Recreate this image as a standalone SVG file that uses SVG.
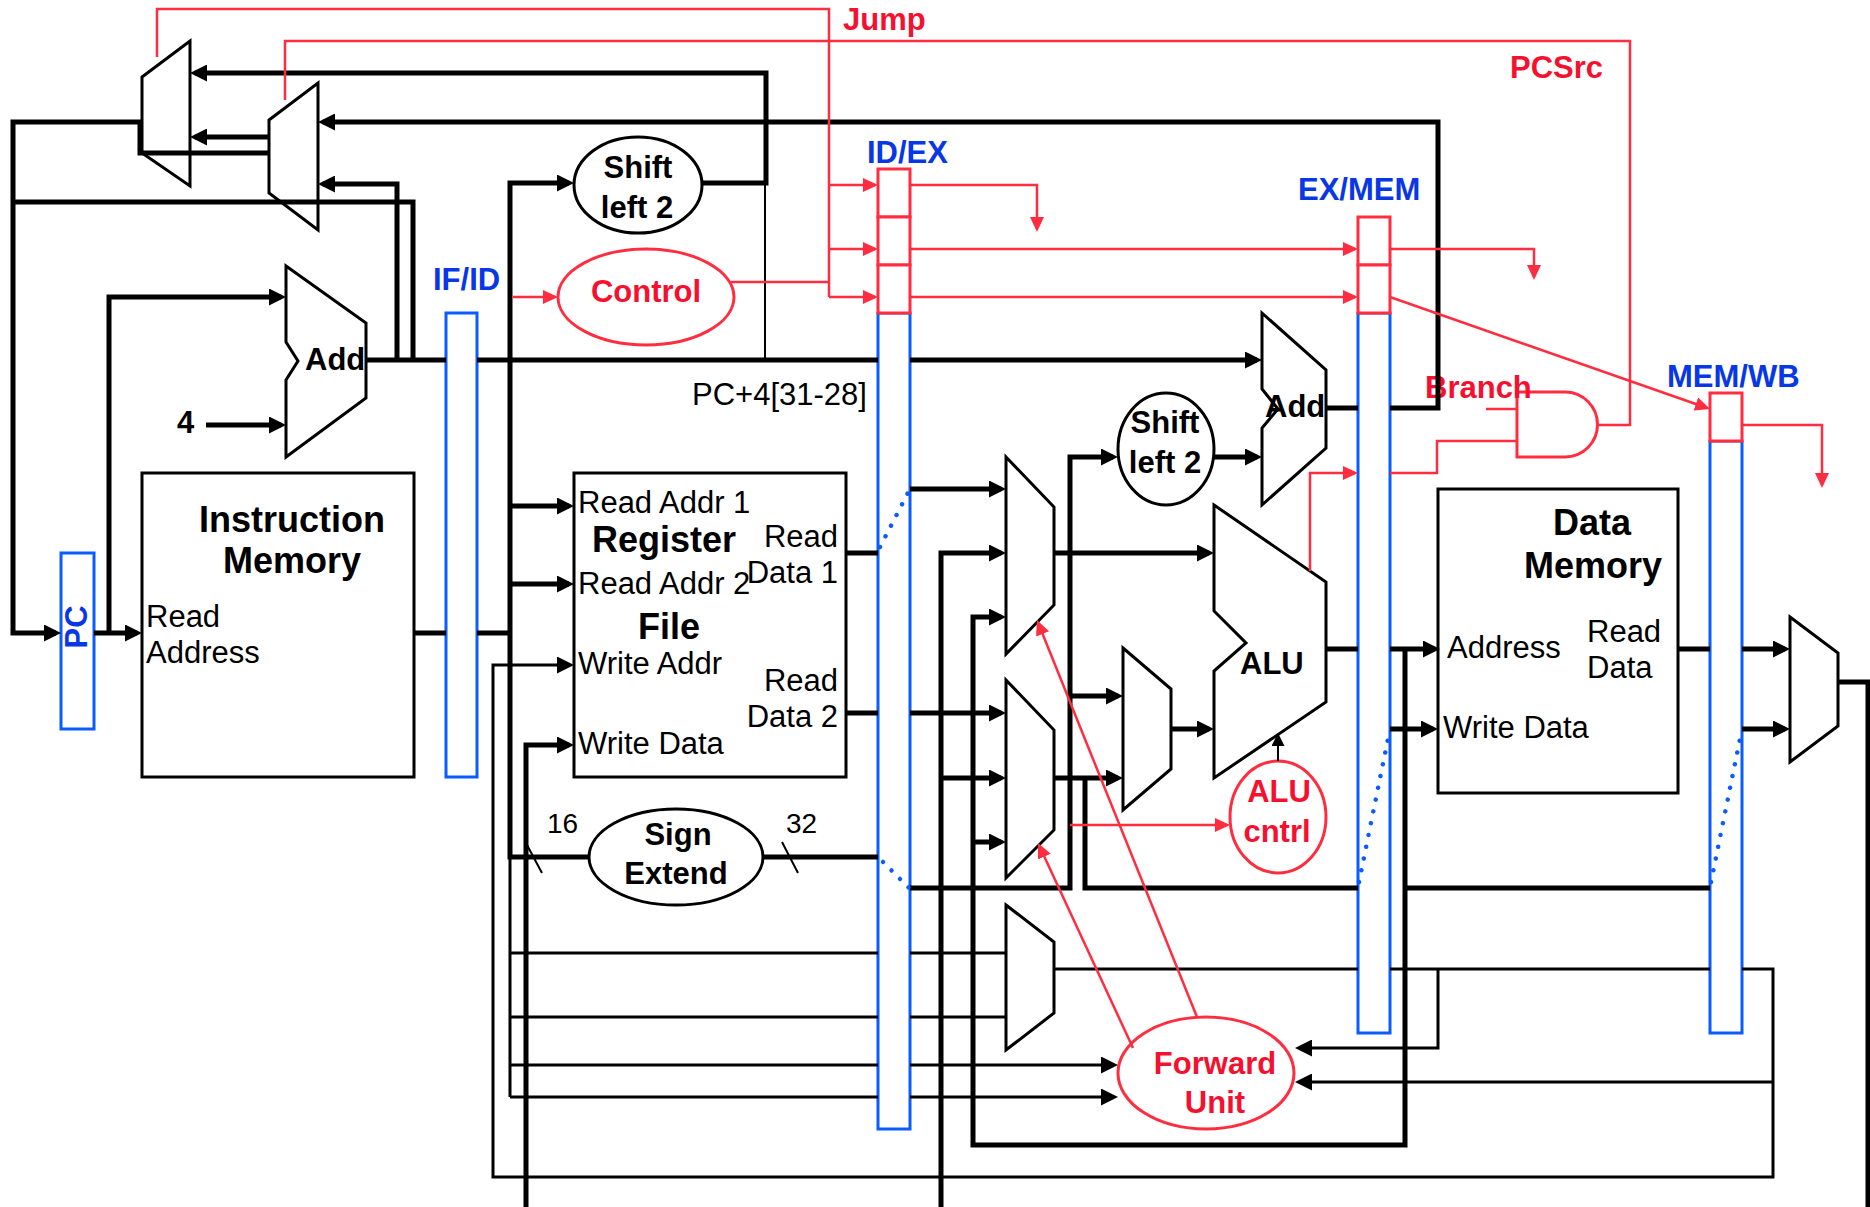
<svg xmlns="http://www.w3.org/2000/svg" width="1870" height="1207" viewBox="0 0 1870 1207">
<defs>
<style>
.bk{fill:none;stroke:#000;stroke-width:5}
.tn{fill:none;stroke:#000;stroke-width:3}
.hl{fill:none;stroke:#000;stroke-width:2}
.rd{fill:none;stroke:#ff2d3f;stroke-width:2.5}
.dot{fill:none;stroke:#0a5cff;stroke-width:4.5;stroke-linecap:round;stroke-dasharray:0.01 12}
.sh{fill:#fff;stroke:#000;stroke-width:3}
.rs{fill:#fff;stroke:#ff2d3f;stroke-width:3}
.bs{fill:#fff;stroke:#0a5cff;stroke-width:3}
text{font-family:"Liberation Sans",Arial,sans-serif}
.t{font-size:31px;fill:#000}
.tb{font-size:31px;font-weight:bold;fill:#000}
.tB{font-size:36px;font-weight:bold;fill:#000}
.tr{font-size:31px;font-weight:bold;fill:#f5102f}
.tbl{font-size:31px;font-weight:bold;fill:#0837e6}
</style>
<marker id="ab" markerUnits="userSpaceOnUse" viewBox="0 0 17 17" markerWidth="17" markerHeight="17" refX="12" refY="8.5" orient="auto"><path d="M0,0 L17,8.5 L0,17 z" fill="#000"/></marker>
<marker id="as" markerUnits="userSpaceOnUse" viewBox="0 0 13 13" markerWidth="13" markerHeight="13" refX="9" refY="6.5" orient="auto"><path d="M0,0 L13,6.5 L0,13 z" fill="#000"/></marker>
<marker id="ar" markerUnits="userSpaceOnUse" viewBox="0 0 15 14" markerWidth="15" markerHeight="14" refX="12" refY="7" orient="auto"><path d="M0,0 L15,7 L0,14 z" fill="#ff2d3f"/></marker>
</defs>
<rect width="1870" height="1207" fill="#fff"/>

<g id="nodes">
<g id="mux-jump"><polygon class="sh" points="142,77 190,41 190,186 142,153"/></g>
<g id="mux-pcsrc"><polygon class="sh" points="269,120 318,83 318,230 269,193"/></g>
<g id="pc"><rect class="bs" x="61" y="553" width="33" height="176"/><text class="tbl" transform="translate(87,627) rotate(-90)" text-anchor="middle">PC</text></g>
<g id="add-pc"><polygon class="sh" points="286,266 366,323 366,398 286,457 286,380 298,361 286,342"/><text class="tb" x="305" y="370">Add</text></g>
<text class="tb" x="177" y="433">4</text>
<g id="instr-mem"><rect class="sh" x="142" y="473" width="272" height="304"/>
<text class="tB" x="292" y="532" text-anchor="middle">Instruction</text>
<text class="tB" x="292" y="573" text-anchor="middle">Memory</text>
<text class="t" x="146" y="627">Read</text>
<text class="t" x="146" y="663">Address</text></g>
<g id="if-id"><rect class="bs" x="446" y="313" width="31" height="464"/><text class="tbl" x="433" y="290">IF/ID</text></g>
<g id="shift1"><ellipse class="sh" cx="638" cy="185" rx="64" ry="48"/><text class="tb" x="638" y="178" text-anchor="middle">Shift</text><text class="tb" x="637" y="218" text-anchor="middle">left 2</text></g>
<g id="control"><ellipse class="rs" cx="646" cy="297" rx="88" ry="48"/><text class="tr" x="646" y="302" text-anchor="middle">Control</text></g>
<g id="regfile"><rect class="sh" x="574" y="473" width="272" height="304"/>
<text class="t" x="578" y="513">Read Addr 1</text>
<text class="tB" x="592" y="552">Register</text>
<text class="t" x="838" y="547" text-anchor="end">Read</text>
<text class="t" x="838" y="583" text-anchor="end">Data 1</text>
<text class="t" x="578" y="594">Read Addr 2</text>
<text class="tB" x="638" y="639">File</text>
<text class="t" x="578" y="674">Write Addr</text>
<text class="t" x="838" y="691" text-anchor="end">Read</text>
<text class="t" x="838" y="727" text-anchor="end">Data 2</text>
<text class="t" x="578" y="754">Write Data</text></g>
<g id="signext"><ellipse class="sh" cx="676" cy="857" rx="87" ry="48"/><text class="tb" x="678" y="845" text-anchor="middle">Sign</text><text class="tb" x="676" y="884" text-anchor="middle">Extend</text>
<text class="t" x="547" y="833" style="font-size:28px">16</text><text class="t" x="786" y="833" style="font-size:28px">32</text></g>
<g id="id-ex"><rect class="bs" x="878" y="313" width="32" height="816"/>
<rect class="rs" x="878" y="169" width="32" height="48"/><rect class="rs" x="878" y="217" width="32" height="48"/><rect class="rs" x="878" y="265" width="32" height="48"/>
<text class="tbl" x="867" y="163">ID/EX</text></g>
<text class="t" x="692" y="405">PC+4[31-28]</text>
<g id="mux-a"><polygon class="sh" points="1006,457 1054,507 1054,605 1006,654"/></g>
<g id="mux-b"><polygon class="sh" points="1006,680 1054,730 1054,830 1006,878"/></g>
<g id="mux-regdst"><polygon class="sh" points="1006,905 1054,942 1054,1013 1006,1050"/></g>
<g id="mux-alusrc"><polygon class="sh" points="1123,648 1171,689 1171,769 1123,810"/></g>
<g id="shift2"><ellipse class="sh" cx="1166" cy="449" rx="48" ry="56"/><text class="tb" x="1165" y="433" text-anchor="middle">Shift</text><text class="tb" x="1165" y="473" text-anchor="middle">left 2</text></g>
<g id="add-branch"><polygon class="sh" points="1262,313 1326,370 1326,448 1262,505 1262,428 1278,409 1262,389"/><text class="tb" x="1265" y="417">Add</text></g>
<g id="alu"><polygon class="sh" points="1214,505 1326,582 1326,702 1214,778 1214,671 1246,643 1214,611"/><text class="tb" x="1240" y="674">ALU</text></g>
<g id="alu-cntrl"><ellipse class="rs" cx="1278" cy="817" rx="48" ry="56"/><text class="tr" x="1279" y="802" text-anchor="middle">ALU</text><text class="tr" x="1277" y="842" text-anchor="middle">cntrl</text></g>
<g id="ex-mem"><rect class="bs" x="1358" y="313" width="32" height="720"/>
<rect class="rs" x="1358" y="217" width="32" height="48"/><rect class="rs" x="1358" y="265" width="32" height="48"/>
<text class="tbl" x="1298" y="200">EX/MEM</text></g>
<g id="data-mem"><rect class="sh" x="1438" y="489" width="240" height="304"/>
<text class="tB" x="1592" y="535" text-anchor="middle">Data</text>
<text class="tB" x="1593" y="578" text-anchor="middle">Memory</text>
<text class="t" x="1447" y="658">Address</text>
<text class="t" x="1587" y="642">Read</text>
<text class="t" x="1587" y="678">Data</text>
<text class="t" x="1443" y="738">Write Data</text></g>
<g id="and-gate"><path class="rs" d="M1517,392 H1565 A32.5,32.5 0 0 1 1565,457 H1517 Z"/><text class="tr" x="1425" y="398">Branch</text></g>
<g id="mem-wb"><rect class="bs" x="1710" y="441" width="32" height="592"/><rect class="rs" x="1710" y="393" width="32" height="48"/><text class="tbl" x="1667" y="387">MEM/WB</text></g>
<g id="mux-wb"><polygon class="sh" points="1790,617 1838,653 1838,726 1790,762"/></g>
<g id="forward-unit"><ellipse class="rs" cx="1206" cy="1073" rx="88" ry="56"/><text class="tr" x="1215" y="1074" text-anchor="middle">Forward</text><text class="tr" x="1215" y="1113" text-anchor="middle">Unit</text></g>
<text class="tr" x="843" y="30">Jump</text>
<text class="tr" x="1510" y="78">PCSrc</text>
</g>

<g id="connectors">
<path class="bk" d="M269,153 H140 V122 H13 V633 H56" marker-end="url(#ab)"/>
<path class="bk" d="M269,137 H195" marker-end="url(#ab)"/>
<path class="bk" d="M702,183 H766 V73 H195" marker-end="url(#ab)"/>
<path class="bk" d="M1390,408 H1438 V122 H323" marker-end="url(#ab)"/>
<path class="bk" d="M1326,408 H1358"/>
<path class="bk" d="M366,360 H446"/>
<path class="bk" d="M397,360 V184 H323" marker-end="url(#ab)"/>
<path class="bk" d="M413,360 V202 H13"/>
<path class="bk" d="M94,633 H137" marker-end="url(#ab)"/>
<path class="bk" d="M109,633 V297 H281" marker-end="url(#ab)"/>
<path class="bk" d="M206,425 H281" marker-end="url(#ab)"/>
<path class="bk" d="M414,633 H446"/>
<path class="bk" d="M477,360 H878"/>
<path class="bk" d="M910,360 H1257" marker-end="url(#ab)"/>
<path class="bk" d="M477,633 H510"/>
<path class="bk" d="M589,857 H510 V183 H569" marker-end="url(#ab)"/>
<path class="bk" d="M510,506 H569" marker-end="url(#ab)"/>
<path class="bk" d="M510,584 H569" marker-end="url(#ab)"/>
<path class="bk" d="M763,857 H878"/>
<path class="bk" d="M941,1207 V553 H1001" marker-end="url(#ab)"/>
<path class="bk" d="M941,778 H1001" marker-end="url(#ab)"/>
<path class="bk" d="M526,1207 V745 H569" marker-end="url(#ab)"/>
<path class="bk" d="M1838,682 H1868 V1207"/>
<path class="bk" d="M846,553 H878"/>
<path class="bk" d="M910,489 H1001" marker-end="url(#ab)"/>
<path class="bk" d="M846,713 H878"/>
<path class="bk" d="M910,713 H1001" marker-end="url(#ab)"/>
<path class="bk" d="M910,888 H1070 V457 H1113" marker-end="url(#ab)"/>
<path class="bk" d="M1070,696 H1118" marker-end="url(#ab)"/>
<path class="bk" d="M1214,457 H1257" marker-end="url(#ab)"/>
<path class="bk" d="M1054,553 H1209" marker-end="url(#ab)"/>
<path class="bk" d="M1054,778 H1118" marker-end="url(#ab)"/>
<path class="bk" d="M1085,778 V888 H1358"/>
<path class="bk" d="M1171,729 H1209" marker-end="url(#ab)"/>
<path class="bk" d="M1326,649 H1358"/>
<path class="bk" d="M1390,649 H1435" marker-end="url(#ab)"/>
<path class="bk" d="M1405,649 V1145 H973 V617 H1001" marker-end="url(#ab)"/>
<path class="bk" d="M973,842 H1001" marker-end="url(#ab)"/>
<path class="bk" d="M1405,888 H1710"/>
<path class="bk" d="M1390,729 H1433" marker-end="url(#ab)"/>
<path class="bk" d="M1678,649 H1710"/>
<path class="bk" d="M1742,649 H1785" marker-end="url(#ab)"/>
<path class="bk" d="M1742,729 H1785" marker-end="url(#ab)"/>

<path class="tn" d="M510,857 V1097"/>
<path class="tn" d="M510,953 H878 M910,953 H1006"/>
<path class="tn" d="M510,1017 H878 M910,1017 H1006"/>
<path class="tn" d="M510,1065 H878"/>
<path class="tn" d="M910,1065 H1113" marker-end="url(#ab)"/>
<path class="tn" d="M510,1097 H878"/>
<path class="tn" d="M910,1097 H1113" marker-end="url(#ab)"/>
<path class="tn" d="M1054,969 H1358 M1390,969 H1710"/>
<path class="tn" d="M1742,969 H1773 V1177 H493 V665 H569" marker-end="url(#ab)"/>
<path class="tn" d="M1773,1082 H1300" marker-end="url(#ab)"/>
<path class="tn" d="M1438,969 V1048 H1300" marker-end="url(#ab)"/>
<path class="hl" d="M765,183 V360"/>
<path class="hl" d="M1278,761 V737" marker-end="url(#as)"/>
<path class="hl" d="M527,845 L542,873"/>
<path class="hl" d="M782,842 L798,873"/>

<path class="rd" d="M157,57 V9 H829 V297"/>
<path class="rd" d="M285,100 V41 H1630 V425 H1598"/>
<path class="rd" d="M731,282 H829"/>
<path class="rd" d="M829,185 H875" marker-end="url(#ar)"/>
<path class="rd" d="M829,249 H875" marker-end="url(#ar)"/>
<path class="rd" d="M829,297 H875" marker-end="url(#ar)"/>
<path class="rd" d="M513,297 H555" marker-end="url(#ar)"/>
<path class="rd" d="M910,185 H1037 V229" marker-end="url(#ar)"/>
<path class="rd" d="M910,249 H1355" marker-end="url(#ar)"/>
<path class="rd" d="M910,297 H1355" marker-end="url(#ar)"/>
<path class="rd" d="M1390,249 H1534 V277" marker-end="url(#ar)"/>
<path class="rd" d="M1390,297 L1707.2,408" marker-end="url(#ar)"/>
<path class="rd" d="M1742,425 H1822 V485" marker-end="url(#ar)"/>
<path class="rd" d="M1310,571 V473 H1355" marker-end="url(#ar)"/>
<path class="rd" d="M1390,473 H1437 V441 H1517"/>
<path class="rd" d="M1486,409 H1517"/>
<path class="rd" d="M1070,825 H1227" marker-end="url(#ar)"/>
<path class="rd" d="M1197,1017 L1038.1,622.8" marker-end="url(#ar)"/>
<path class="rd" d="M1133,1048 L1039.3,845.7" marker-end="url(#ar)"/>

<path class="dot" d="M880,547 L910,489"/>
<path class="dot" d="M883,862 L910,889"/>
<path class="dot" d="M1359,882 L1390,729"/>
<path class="dot" d="M1711,882 L1742,729"/>
</g>
</svg>
